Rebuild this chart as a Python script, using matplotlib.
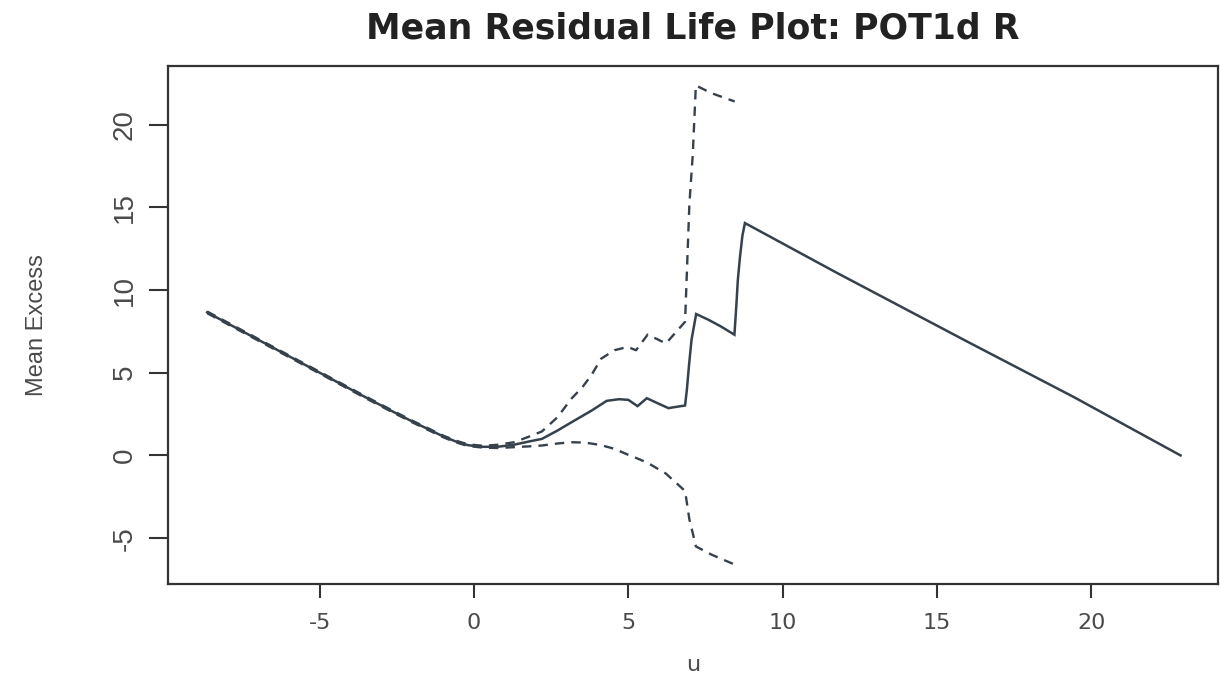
import numpy as np
import matplotlib.pyplot as plt

# mean excess over threshold u
u_mean = [-8.65, -7.5, -6.0, -4.5, -3.5, -2.6, -2.0, -1.5, -1.0, -0.6, -0.2, 0.3, 0.8,
          1.3, 1.8, 2.2, 2.7, 3.2, 3.8, 4.3, 4.7, 5.0, 5.3, 5.6, 5.9, 6.3, 6.84, 6.9,
          6.97, 7.05, 7.2, 7.6, 8.0, 8.44, 8.5, 8.55, 8.62, 8.7, 8.78, 11.78, 16.0,
          19.44, 22.9]
me_mean = [8.65, 7.5, 6.0, 4.5, 3.5, 2.62, 2.05, 1.6, 1.15, 0.85, 0.62, 0.52, 0.53,
           0.65, 0.85, 1.0, 1.5, 2.05, 2.7, 3.3, 3.4, 3.36, 2.98, 3.46, 3.2, 2.86, 3.02,
           4.0, 5.5, 7.0, 8.55, 8.2, 7.8, 7.3, 9.0, 10.6, 12.0, 13.3, 14.05, 11.02, 6.87,
           3.53, 0.0]

# confidence bounds
u_ci = [-8.65, -7.5, -6.0, -4.5, -3.5, -2.6, -2.0, -1.5, -1.0, -0.6, -0.2, 0.3, 0.8,
        1.3, 1.8, 2.2, 2.7, 3.15, 3.5, 3.8, 4.12, 4.55, 4.98, 5.25, 5.63, 6.22, 6.84,
        6.98, 7.09, 7.19, 7.7, 8.45]
ci_upper = [8.7, 7.55, 6.05, 4.55, 3.55, 2.67, 2.1, 1.65, 1.2, 0.9, 0.67, 0.58, 0.65,
            0.8, 1.15, 1.45, 2.3, 3.42, 4.1, 4.84, 5.85, 6.36, 6.56, 6.36, 7.31, 6.77,
            8.08, 15.2, 18.2, 22.37, 21.9, 21.4]
ci_lower = [8.6, 7.45, 5.95, 4.45, 3.45, 2.57, 2.0, 1.55, 1.1, 0.8, 0.57, 0.47, 0.45,
            0.5, 0.55, 0.6, 0.72, 0.8, 0.78, 0.72, 0.62, 0.4, 0.05, -0.15, -0.45, -1.1,
            -2.15, -3.87, -4.7, -5.5, -6.0, -6.6]

x_ticks = [-5, 0, 5, 10, 15, 20]
y_ticks = [-5, 0, 5, 10, 15, 20]

ink = '#36414c'
txt = '#4a4a4a'
sans = ['Liberation Sans', 'DejaVu Sans']

fig = plt.figure(figsize=(12.2, 6.79), dpi=100)
ax = fig.add_axes([0.1377, 0.14, 0.8603, 0.7629])

ax.plot(u_mean, me_mean, color=ink, lw=1.8, solid_joinstyle='miter')
ax.plot(u_ci, ci_upper, color=ink, lw=1.7, ls=(0, (4, 3)))
ax.plot(u_ci, ci_lower, color=ink, lw=1.7, ls=(0, (4, 3)))

ax.set_xlim(-9.92, 24.1)
ax.set_ylim(-7.77, 23.55)
ax.set_xticks(x_ticks)
ax.set_xticklabels([str(t) for t in x_ticks], family='DejaVu Sans', fontsize=16, color=txt)
ax.set_yticks(y_ticks)
ax.set_yticklabels([str(t) for t in y_ticks], family=sans, fontsize=20,
                   color=txt, rotation=90, va='center')
ax.tick_params(axis='x', length=10, width=1.5, color='#333333', pad=11)
ax.tick_params(axis='y', length=14, width=1.5, color='#333333', pad=8)
for sp in ax.spines.values():
    sp.set_color('#333333')
    sp.set_linewidth(1.6)

ax.set_xlabel('u', family='DejaVu Sans', fontsize=16, color=txt, labelpad=16)
ax.set_ylabel('Mean Excess', family=sans, fontsize=17, color=txt, labelpad=46)
ax.set_title('Mean Residual Life Plot: POT1d R', family='DejaVu Sans', fontweight='bold',
             fontsize=25, color='#222222', pad=20)

fig.savefig('out.png', dpi=100)
